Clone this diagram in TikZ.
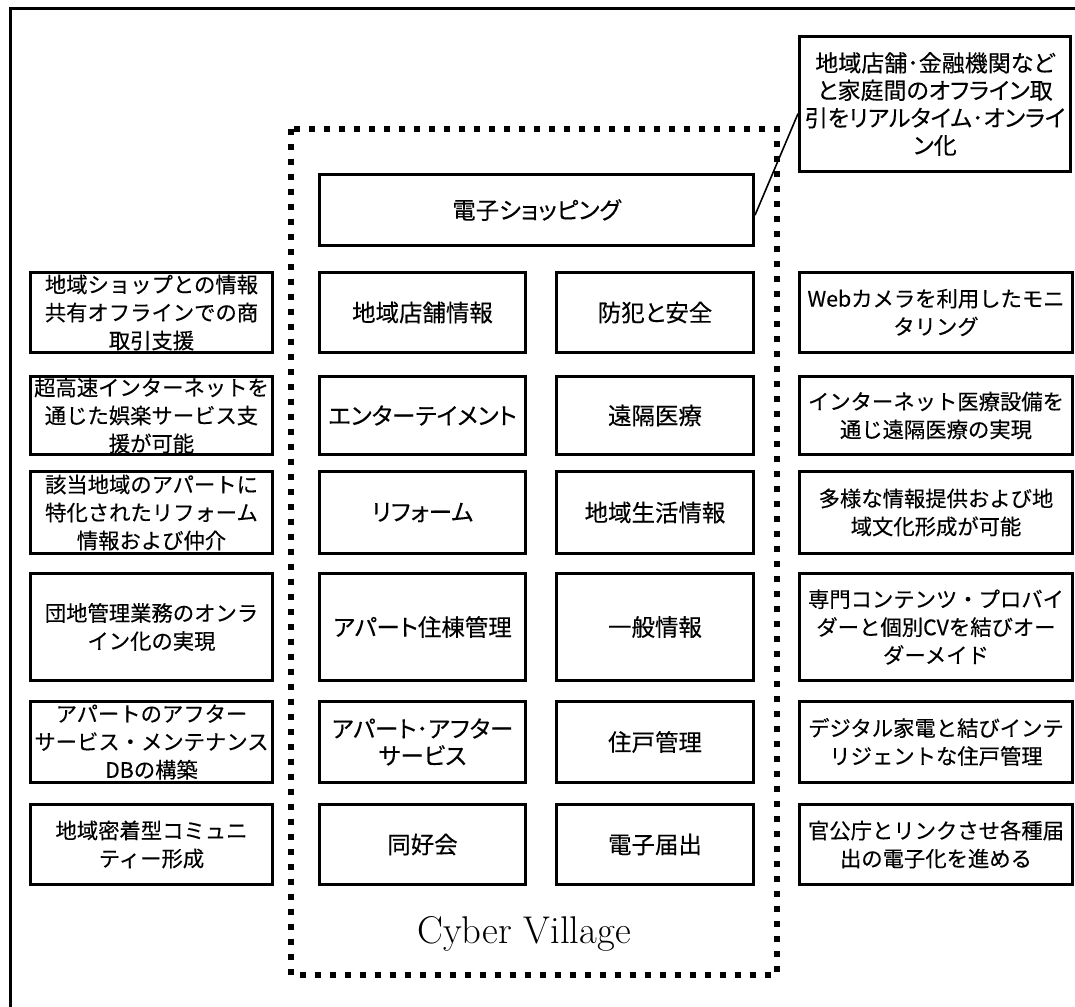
\documentclass[tikz,border=0pt]{standalone}
\usepackage{fontspec}
\newfontfamily\jp[FakeBold=0.3]{Noto Sans CJK JP}
\newfontfamily\jpp[RawFeature=+palt,FakeBold=0.3]{Noto Sans CJK JP}
\usetikzlibrary{calc}
\begin{document}
\begin{tikzpicture}[x=0.75pt,y=-0.75pt,
  box/.style={draw,line width=2.25pt,rectangle,inner sep=0pt,align=center},
  sidetxt/.style={font={\jp\fontsize{16pt}{21pt}\selectfont}},
  midtxt/.style={font={\jpp\fontsize{17.6pt}{20.25pt}\selectfont}},
  lbox/.style={box,sidetxt,minimum width=181.5pt},
  rbox/.style={box,sidetxt,minimum width=204.75pt},
  mlbox/.style={box,midtxt,minimum width=154.5pt},
  mrbox/.style={box,midtxt,minimum width=147.75pt},
  rA/.style={minimum height=60pt},
  rB/.style={minimum height=58.5pt},
  rC/.style={minimum height=61.5pt},
  rD/.style={minimum height=80.25pt},
  rE/.style={minimum height=60.75pt},
  rF/.style={minimum height=60pt},
  dotframe/.style={line width=4.5pt,dash pattern=on 4.5pt off 6.75pt},
  link/.style={line width=1.2pt}
]
\useasboundingbox (0,0) rectangle (1075,1007);
% outer frame (only left and top visible)
\draw[line width=2.25pt] (10,1012) -- (10,8) -- (1080,8);
% dotted Cyber Village frame
\draw[dotframe] (291,128.5) rectangle (776.5,975);
\node[font=\fontsize{29pt}{34pt}\selectfont] (cv) at (524,934) {Cyber Village};

% shopping and callout
\node[box,midtxt,minimum width=325.5pt,minimum height=53.25pt] (shop) at (536.5,210) {電子ショッピング};
\node[box,font={\jpp\fontsize{17.25pt}{20.6pt}\selectfont},minimum width=203.25pt,minimum height=101.25pt] (call) at (935,104)
  {地域店舗･金融機関など\\と家庭間のオフライン取\\引をリアルタイム･オンライ\\ン化};
\draw[link] ($(shop.south east)!0.43!(shop.north east)$) -- ($(call.south west)!0.43!(call.north west)$);

% left column
\node[lbox,rA] (l1) at (151.5,312.5) {地域ショップとの情報\\共有オフラインでの商\\取引支援};
\node[lbox,rB] (l2) at (151.5,415.5) {超高速インターネットを\\通じた娯楽サービス支\\援が可能};
\node[lbox,rC] (l3) at (151.5,512.5) {該当地域のアパートに\\特化されたリフォーム\\情報および仲介};
\node[lbox,rD] (l4) at (151.5,627) {団地管理業務のオンラ\\イン化の実現};
\node[lbox,rE] (l5) at (151.5,742) {アパートのアフター\\サービス・メンテナンス\\DBの構築};
\node[lbox,rF] (l6) at (151.5,844.5) {地域密着型コミュニ\\ティー形成};

% middle left
\node[mlbox,rA] (m1) at (422.5,312.5) {地域店舗情報};
\node[mlbox,rB] (m2) at (422.5,415.5) {エンターテイメント};
\node[mlbox,rC] (m3) at (422.5,512.5) {リフォーム};
\node[mlbox,rD] (m4) at (422.5,627) {アパート住棟管理};
\node[mlbox,rE] (m5) at (422.5,742) {アパート･アフター\\サービス};
\node[mlbox,rF] (m6) at (422.5,844.5) {同好会};

% middle right
\node[mrbox,rA] (n1) at (655,312.5) {防犯と安全};
\node[mrbox,rB] (n2) at (655,415.5) {遠隔医療};
\node[mrbox,rC] (n3) at (655,512.5) {地域生活情報};
\node[mrbox,rD] (n4) at (655,627) {一般情報};
\node[mrbox,rE] (n5) at (655,742) {住戸管理};
\node[mrbox,rF] (n6) at (655,844.5) {電子届出};

% right column
\node[rbox,rA] (r1) at (936,312.5) {Webカメラを利用したモニ\\タリング};
\node[rbox,rB] (r2) at (936,415.5) {インターネット医療設備を\\通じ遠隔医療の実現};
\node[rbox,rC] (r3) at (936,512.5) {多様な情報提供および地\\域文化形成が可能};
\node[rbox,rD] (r4) at (936,627) {専門コンテンツ・プロバイ\\ダーと個別CVを結びオー\\ダーメイド};
\node[rbox,rE] (r5) at (936,742) {デジタル家電と結びインテ\\リジェントな住戸管理};
\node[rbox,rF] (r6) at (936,844.5) {官公庁とリンクさせ各種届\\出の電子化を進める};
\end{tikzpicture}
\end{document}
